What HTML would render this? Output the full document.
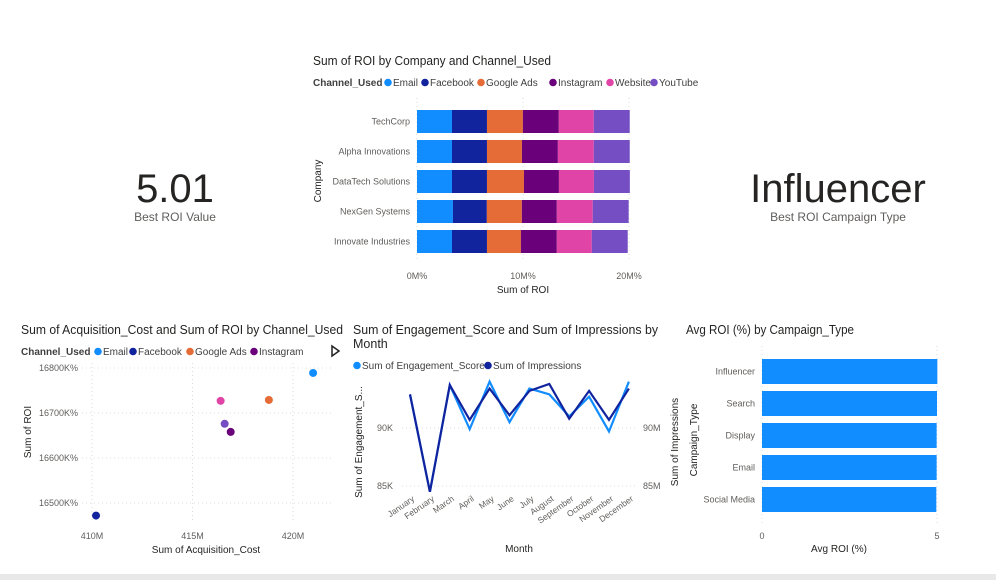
<!DOCTYPE html>
<html><head><meta charset="utf-8"><style>
body{margin:0;background:#fff;width:996px;height:580px;overflow:hidden;font-family:"Liberation Sans",sans-serif}
svg text{font-family:"Liberation Sans",sans-serif}
</style></head><body>
<svg id="s" width="996" height="580" xmlns="http://www.w3.org/2000/svg">
<rect x="0" y="574" width="996" height="6" fill="#e8e8e8"/>
<g>
<text x="175" y="202" font-size="40" text-anchor="middle" fill="#252423">5.01</text>
<text x="175" y="221" font-size="12" text-anchor="middle" fill="#605e5c">Best ROI Value</text>
</g>
<g>
<text x="838" y="202" font-size="40" text-anchor="middle" fill="#252423">Influencer</text>
<text x="838" y="221" font-size="12" text-anchor="middle" fill="#605e5c">Best ROI Campaign Type</text>
</g>
<g id="c1"></g>
<g id="c2"></g>
<g id="c3"></g>
<g id="c4"></g>
</svg>
<script>
const companies=["TechCorp","Alpha Innovations","DataTech Solutions","NexGen Systems","Innovate Industries"];
const channels=["Email","Facebook","Google Ads","Instagram","Website","YouTube"];
const channelColors=["#118dff","#12239e","#e66c37","#6b007b","#e044a7","#744ec2"];
const roiEmail=[3.30,3.30,3.30,3.39,3.30];
const roiFacebook=[3.30,3.30,3.30,3.20,3.30];
const roiGoogle=[3.39,3.30,3.49,3.30,3.20];
const roiInstagram=[3.39,3.39,3.30,3.30,3.39];
const roiWebsite=[3.30,3.39,3.30,3.39,3.30];
const roiYouTube=[3.39,3.39,3.39,3.39,3.39];
const roiTicks=[0,10,20];

const scChannels=["Email","Facebook","Google Ads","Instagram","Website","YouTube"];
const scCost=[421.0,410.2,418.8,416.9,416.4,416.6];
const scRoi=[16789,16472,16729,16658,16727,16676];
const scXTicks=[410,415,420];
const scYTicks=[16500,16600,16700,16800];

const months=["January","February","March","April","May","June","July","August","September","October","November","December"];
const engagement=[92.9,84.5,93.7,89.9,94.0,90.5,93.4,92.9,91.0,92.7,89.7,94.0];
const impressions=[92.9,84.5,93.7,90.7,93.4,91.1,93.2,93.8,90.8,93.2,90.7,93.4];
const lineTicks=[85,90];

const campTypes=["Influencer","Search","Display","Email","Social Media"];
const campRoi=[5.01,5.0,4.99,4.99,4.98];
const campTicks=[0,5];

const NS="http://www.w3.org/2000/svg";
function el(p,t,a,txt){const e=document.createElementNS(NS,t);for(const k in a)e.setAttribute(k,a[k]);if(txt!==undefined)e.textContent=txt;p.appendChild(e);return e;}
const dark="#252423",grey="#605e5c";
function fit(e,w){e.setAttribute('textLength',w);e.setAttribute('lengthAdjust','spacingAndGlyphs');}

// Chart 1
(function(){
const g=document.getElementById('c1');
const t=el(g,'text',{x:313,y:65,'font-size':12.5,fill:dark},'Sum of ROI by Company and Channel_Used');fit(t,238);

const lt=el(g,'text',{x:313,y:86,'font-size':10,'font-weight':'bold',fill:'#404040'},'Channel_Used');

const lx=[384,421,477,549,606,650];
channels.forEach((c,i)=>{const lg=el(g,'g',{});

el(lg,'circle',{cx:lx[i]+4,cy:82.5,r:3.8,fill:channelColors[i]});el(lg,'text',{x:lx[i]+9,y:86,'font-size':10,fill:'#404040'},c);});
const x=v=>417+v*10.6;const y0=110,step=30,bh=23;
roiTicks.forEach(v=>{el(g,'line',{x1:x(v),x2:x(v),y1:98,y2:262,stroke:'#ddd','stroke-dasharray':'1 3'});
const tt=el(g,'text',{x:x(v),y:279,'font-size':9,fill:grey,'text-anchor':'middle'},v+'M%');});
const series=[roiEmail,roiFacebook,roiGoogle,roiInstagram,roiWebsite,roiYouTube];
companies.forEach((c,ci)=>{const yy=y0+ci*step;
const lab=el(g,'text',{x:410,y:yy+bh/2+3,'font-size':9,fill:grey,'text-anchor':'end'},c);
let acc=0;series.forEach((s,si)=>{const r=el(g,'rect',{x:x(acc),y:yy,width:s[ci]*10.6,height:bh,fill:channelColors[si]});
acc+=s[ci];});});
const xa=el(g,'text',{x:523,y:293,'font-size':10,fill:dark,'text-anchor':'middle'},'Sum of ROI');
const ya=el(g,'text',{x:0,y:0,'font-size':10,fill:dark,'text-anchor':'middle',transform:'translate(321,181) rotate(-90)'},'Company');
})();

// Chart 2 scatter
(function(){
const g=document.getElementById('c2');
const t=el(g,'text',{x:21,y:334,'font-size':12.5,fill:dark},'Sum of Acquisition_Cost and Sum of ROI by Channel_Used');fit(t,322);
const lt=el(g,'text',{x:21,y:355,'font-size':10,'font-weight':'bold',fill:'#404040'},'Channel_Used');
const lx=[94,129,186,250];
["Email","Facebook","Google Ads","Instagram"].forEach((c,i)=>{const lg=el(g,'g',{});
el(lg,'circle',{cx:lx[i]+4,cy:351.5,r:3.8,fill:channelColors[i]});el(lg,'text',{x:lx[i]+9,y:355,'font-size':10,fill:'#404040'},c);});
const ar=el(g,'path',{d:'M332 346 L339 351 L332 356 Z',fill:'#fff',stroke:'#222','stroke-width':1.5});
const x=v=>92+(v-410)*20.1,y=v=>368-(v-16800)*0.45;
scXTicks.forEach(v=>{el(g,'line',{x1:x(v),x2:x(v),y1:363,y2:523,stroke:'#ddd','stroke-dasharray':'1 3'});
const tt=el(g,'text',{x:x(v),y:539,'font-size':9,fill:grey,'text-anchor':'middle'},v+'M');});
scYTicks.forEach(v=>{el(g,'line',{x1:82,x2:332,y1:y(v),y2:y(v),stroke:'#ddd','stroke-dasharray':'1 3'});
const tt=el(g,'text',{x:78,y:y(v)+3,'font-size':9,fill:grey,'text-anchor':'end'},v+'K%');});
scCost.forEach((v,i)=>{const c=el(g,'circle',{cx:x(v),cy:y(scRoi[i]),r:4,fill:channelColors[i]});});
const xa=el(g,'text',{x:206,y:553,'font-size':10,fill:dark,'text-anchor':'middle'},'Sum of Acquisition_Cost');
const ya=el(g,'text',{x:0,y:0,'font-size':10,fill:dark,'text-anchor':'middle',transform:'translate(31,432) rotate(-90)'},'Sum of ROI');
})();

// Chart 3 line
(function(){
const g=document.getElementById('c3');
const t1=el(g,'text',{x:353,y:334,'font-size':12.5,fill:dark},'Sum of Engagement_Score and Sum of Impressions by');fit(t1,305);
el(g,'text',{x:353,y:348,'font-size':12.5,fill:dark},'Month');
const le=el(g,'g',{});
el(le,'circle',{cx:357,cy:365.5,r:3.8,fill:'#118dff'});el(le,'text',{x:362,y:369,'font-size':10,fill:'#404040'},'Sum of Engagement_Score');
const li=el(g,'g',{});
el(li,'circle',{cx:488,cy:365.5,r:3.8,fill:'#12239e'});el(li,'text',{x:493,y:369,'font-size':10,fill:'#404040'},'Sum of Impressions');
const x=i=>410+i*19.9,y=v=>428-(v-90)*11.6;
lineTicks.forEach(v=>{el(g,'line',{x1:402,x2:636,y1:y(v),y2:y(v),stroke:'#ddd','stroke-dasharray':'1 3'});
const a=el(g,'text',{x:393,y:y(v)+3,'font-size':9,fill:grey,'text-anchor':'end'},v+'K');
const b=el(g,'text',{x:643,y:y(v)+3,'font-size':9,fill:grey},v+'M');});
months.forEach((m,i)=>{const tt=el(g,'text',{x:0,y:0,'font-size':8.5,fill:grey,'text-anchor':'end',transform:`translate(${x(i)+5},${500}) rotate(-35)`},m);});
const pe=el(g,'polyline',{points:engagement.map((v,i)=>x(i)+','+y(v)).join(' '),fill:'none',stroke:'#118dff','stroke-width':2.2});
const pi=el(g,'polyline',{points:impressions.map((v,i)=>x(i)+','+y(v)).join(' '),fill:'none',stroke:'#12239e','stroke-width':2.2});
const xa=el(g,'text',{x:519,y:552,'font-size':10,fill:dark,'text-anchor':'middle'},'Month');
const ya=el(g,'text',{x:0,y:0,'font-size':10,fill:dark,'text-anchor':'middle',transform:'translate(362,442) rotate(-90)'},'Sum of Engagement_S...');
const yb=el(g,'text',{x:0,y:0,'font-size':10,fill:dark,'text-anchor':'middle',transform:'translate(678,442) rotate(-90)'},'Sum of Impressions');
})();

// Chart 4
(function(){
const g=document.getElementById('c4');
const t=el(g,'text',{x:686,y:334,'font-size':12.5,fill:dark},'Avg ROI (%) by Campaign_Type');fit(t,168);
const x=v=>762+v*35,y0=359,step=32,bh=25;
campTicks.forEach(v=>{el(g,'line',{x1:x(v),x2:x(v),y1:346,y2:524,stroke:'#ddd','stroke-dasharray':'1 3'});
const tt=el(g,'text',{x:x(v),y:539,'font-size':9,fill:grey,'text-anchor':'middle'},v);});
campTypes.forEach((c,i)=>{const yy=y0+i*step;
const lab=el(g,'text',{x:755,y:yy+bh/2+3,'font-size':9,fill:grey,'text-anchor':'end'},c);
const r=el(g,'rect',{x:x(0),y:yy,width:x(campRoi[i])-x(0),height:bh,fill:'#118dff'});});
const xa=el(g,'text',{x:839,y:552,'font-size':10,fill:dark,'text-anchor':'middle'},'Avg ROI (%)');
const ya=el(g,'text',{x:0,y:0,'font-size':10,fill:dark,'text-anchor':'middle',transform:'translate(697,440) rotate(-90)'},'Campaign_Type');
})();
</script>
</body></html>
